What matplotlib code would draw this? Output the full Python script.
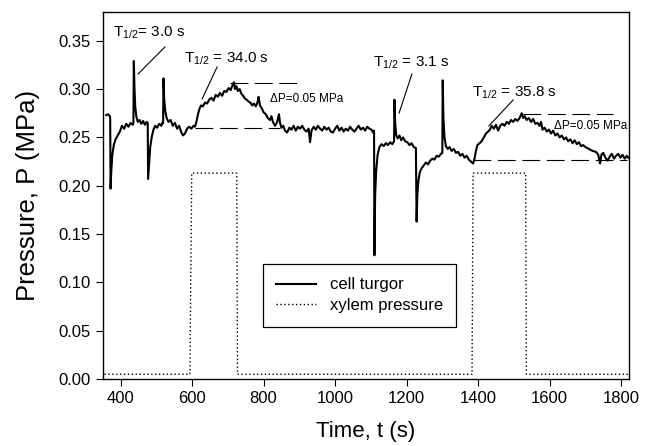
import matplotlib
matplotlib.use('Agg')
import matplotlib.pyplot as plt

plt.rcParams['font.family'] = ['Liberation Sans', 'DejaVu Sans']
plt.rcParams['mathtext.default'] = 'regular'

# cell turgor trace (s, MPa)
t_cell = [360, 365, 370, 371, 372, 374, 377, 381, 386, 392, 398, 404, 410, 416, 422,
          428, 434, 436, 437, 439, 441, 444, 448, 453, 458, 463, 468, 473, 476, 477,
          480, 483, 487, 492, 497, 502, 508, 514, 518, 519, 520, 522, 525, 529, 534,
          540, 546, 552, 558, 564, 570, 575, 580, 586, 592, 598, 604, 608,
          612, 616, 620, 625, 630, 636, 642, 648, 654, 660, 666, 672, 678, 684, 690,
          696, 702, 708, 712, 717, 720, 724, 728, 733, 738, 743, 748, 753, 758, 763,
          768, 773, 778, 783, 786, 790, 795, 800, 806, 812, 818, 822, 826, 832, 838,
          843, 846, 850, 855, 860, 866, 872, 878, 884, 890, 896, 902, 908, 914, 920,
          926, 930, 934, 940, 946, 952, 958, 964, 970, 976, 982, 988, 994, 1000, 1006,
          1012, 1018, 1024, 1030, 1036, 1042, 1048, 1054, 1060, 1066, 1072, 1078, 1084,
          1090, 1096, 1102, 1106, 1109, 1110, 1112, 1115, 1119, 1124, 1130, 1136, 1142,
          1148, 1154, 1160, 1165, 1166, 1168, 1171, 1175, 1180, 1185, 1190, 1196, 1202,
          1208, 1214, 1220, 1226, 1228, 1230, 1233, 1237, 1242, 1248, 1254, 1260, 1266,
          1272, 1278, 1284, 1290, 1296, 1300, 1301, 1303, 1306, 1310, 1315, 1320, 1326,
          1332, 1338, 1344, 1350, 1356, 1362, 1368, 1374, 1380, 1386, 1390, 1394, 1398,
          1404, 1410, 1416, 1422, 1428, 1433, 1438, 1444, 1450, 1456, 1462, 1468, 1474,
          1480, 1486, 1492, 1498, 1504, 1510, 1516, 1522, 1526, 1530, 1536, 1542, 1548,
          1554, 1560, 1566, 1572, 1576, 1580, 1586, 1592, 1598, 1604, 1610, 1616, 1622,
          1628, 1634, 1640, 1646, 1652, 1658, 1664, 1670, 1676, 1682, 1688, 1694, 1700,
          1710, 1720, 1730, 1736, 1741, 1745, 1750, 1756, 1762, 1768, 1774, 1780, 1786,
          1792, 1798, 1804, 1810, 1816, 1820]
p_cell = [0.273, 0.274, 0.272, 0.270, 0.197, 0.215, 0.232, 0.242, 0.248, 0.252, 0.256, 0.262, 0.259, 0.264, 0.261,
          0.265, 0.263, 0.265, 0.329, 0.300, 0.282, 0.272, 0.266, 0.268, 0.264, 0.267, 0.263, 0.266, 0.265, 0.207,
          0.224, 0.240, 0.250, 0.258, 0.262, 0.260, 0.264, 0.262, 0.266, 0.265, 0.311, 0.290, 0.277, 0.270, 0.266,
          0.268, 0.262, 0.265, 0.259, 0.262, 0.255, 0.252, 0.254, 0.259, 0.261, 0.259, 0.262, 0.261,
          0.266, 0.273, 0.279, 0.283, 0.282, 0.286, 0.285, 0.289, 0.291, 0.288, 0.294, 0.292, 0.296, 0.293, 0.298,
          0.297, 0.301, 0.299, 0.303, 0.307, 0.300, 0.303, 0.298, 0.300, 0.295, 0.293, 0.290, 0.289, 0.287, 0.286,
          0.283, 0.285, 0.282, 0.286, 0.292, 0.283, 0.280, 0.276, 0.274, 0.270, 0.268, 0.272, 0.266, 0.262, 0.266,
          0.274, 0.265, 0.260, 0.262, 0.257, 0.255, 0.260, 0.258, 0.262, 0.257, 0.261, 0.259, 0.262, 0.258, 0.256,
          0.259, 0.245, 0.257, 0.261, 0.258, 0.262, 0.259, 0.257, 0.261, 0.258, 0.260, 0.256, 0.255, 0.259, 0.262,
          0.257, 0.260, 0.256, 0.259, 0.257, 0.261, 0.258, 0.256, 0.259, 0.262, 0.258, 0.260, 0.257,
          0.261, 0.259, 0.258, 0.255, 0.257, 0.128, 0.190, 0.216, 0.232, 0.240, 0.243, 0.241, 0.244,
          0.242, 0.245, 0.243, 0.246, 0.289, 0.265, 0.252, 0.249, 0.252, 0.247, 0.250, 0.246, 0.245,
          0.242, 0.244, 0.240, 0.239, 0.163, 0.190, 0.205, 0.214, 0.218, 0.221, 0.224, 0.222, 0.226,
          0.228, 0.227, 0.231, 0.230, 0.233, 0.234, 0.309, 0.270, 0.250, 0.241, 0.238, 0.240, 0.236,
          0.238, 0.234, 0.235, 0.231, 0.233, 0.229, 0.231, 0.227, 0.225, 0.223, 0.228, 0.236, 0.242,
          0.244, 0.246, 0.250, 0.254, 0.256, 0.258, 0.262, 0.259, 0.263, 0.257, 0.262, 0.264, 0.262,
          0.266, 0.264, 0.268, 0.266, 0.269, 0.267, 0.270, 0.275, 0.270, 0.272, 0.268, 0.270, 0.266,
          0.269, 0.264, 0.265, 0.262, 0.266, 0.258, 0.260, 0.256, 0.258, 0.254, 0.257, 0.252, 0.254,
          0.250, 0.252, 0.248, 0.250, 0.246, 0.248, 0.244, 0.247, 0.243, 0.245, 0.241, 0.242, 0.240,
          0.238, 0.236, 0.235, 0.232, 0.223, 0.232, 0.234, 0.229, 0.226, 0.230, 0.233, 0.228, 0.231,
          0.233, 0.229, 0.232, 0.228, 0.231, 0.229]

# xylem pressure steps
t_xyl = [355, 594, 599, 725, 727, 1383, 1386, 1533, 1535, 1822]
p_xyl = [0.005, 0.005, 0.213, 0.213, 0.005, 0.005, 0.213, 0.213, 0.005, 0.005]

# dashed guide levels: (t_start, t_end, P)
guides = [(608, 846, 0.260), (706, 907, 0.306), (1386, 1817, 0.227), (1525, 1778, 0.274)]

# annotations: label, text position, leader line start, leader end
half_labels = ['T$_{1/2}$= 3.0 s', 'T$_{1/2}$ = 34.0 s', 'T$_{1/2}$ = 3.1 s', 'T$_{1/2}$ = 35.8 s']
label_pos = [(379, 0.358), (577, 0.331), (1105, 0.327), (1383, 0.296)]
leader_from = [(524, 0.3435), (670, 0.3228), (1215, 0.3156), (1498, 0.2887)]
leader_to = [(449, 0.3156), (628, 0.2897), (1179, 0.2752), (1430, 0.2618)]
dp_pos = [(818, 0.290), (1612, 0.2618)]

fig = plt.figure(figsize=(6.52, 4.46), dpi=100)
ax = fig.add_axes([0.1575, 0.150, 0.8072, 0.8238])

ax.plot(t_cell, p_cell, color='black', lw=1.5, label='cell turgor')
ax.plot(t_xyl, p_xyl, color='black', lw=1.0, dashes=(1, 1.8), label='xylem pressure')

for t0, t1, p in guides:
    ax.plot([t0, t1], [p, p], color='black', lw=0.8, dashes=(16, 6))

for lab, pos, a, b in zip(half_labels, label_pos, leader_from, leader_to):
    ax.text(pos[0], pos[1], lab, fontsize=11, ha='left', va='center')
    ax.plot([a[0], b[0]], [a[1], b[1]], color='black', lw=0.8)

for pos in dp_pos:
    ax.text(pos[0], pos[1], '\u0394P=0.05 MPa', fontsize=8.5, ha='left', va='center')

ax.set_xlim(350, 1822)
ax.set_ylim(0, 0.38)
ax.set_xticks(range(400, 1801, 200))
ax.set_yticks([0.0, 0.05, 0.10, 0.15, 0.20, 0.25, 0.30, 0.35])
ax.yaxis.set_major_formatter(matplotlib.ticker.FormatStrFormatter('%.2f'))
ax.tick_params(direction='out', length=5, width=0.8, labelsize=12)
for s in ax.spines.values():
    s.set_linewidth(1.0)

ax.set_xlabel('Time, t (s)', fontsize=16, labelpad=11)
ax.set_ylabel('Pressure, P (MPa)', fontsize=18.5, labelpad=13)

leg = ax.legend(loc='upper left', bbox_to_anchor=(0.3046, 0.313), borderaxespad=0,
                fontsize=12, frameon=True, fancybox=False, edgecolor='black', framealpha=1,
                handlelength=2.4, borderpad=0.8, labelspacing=0.35)
leg.get_frame().set_linewidth(0.9)

fig.savefig('out.png', dpi=100)
